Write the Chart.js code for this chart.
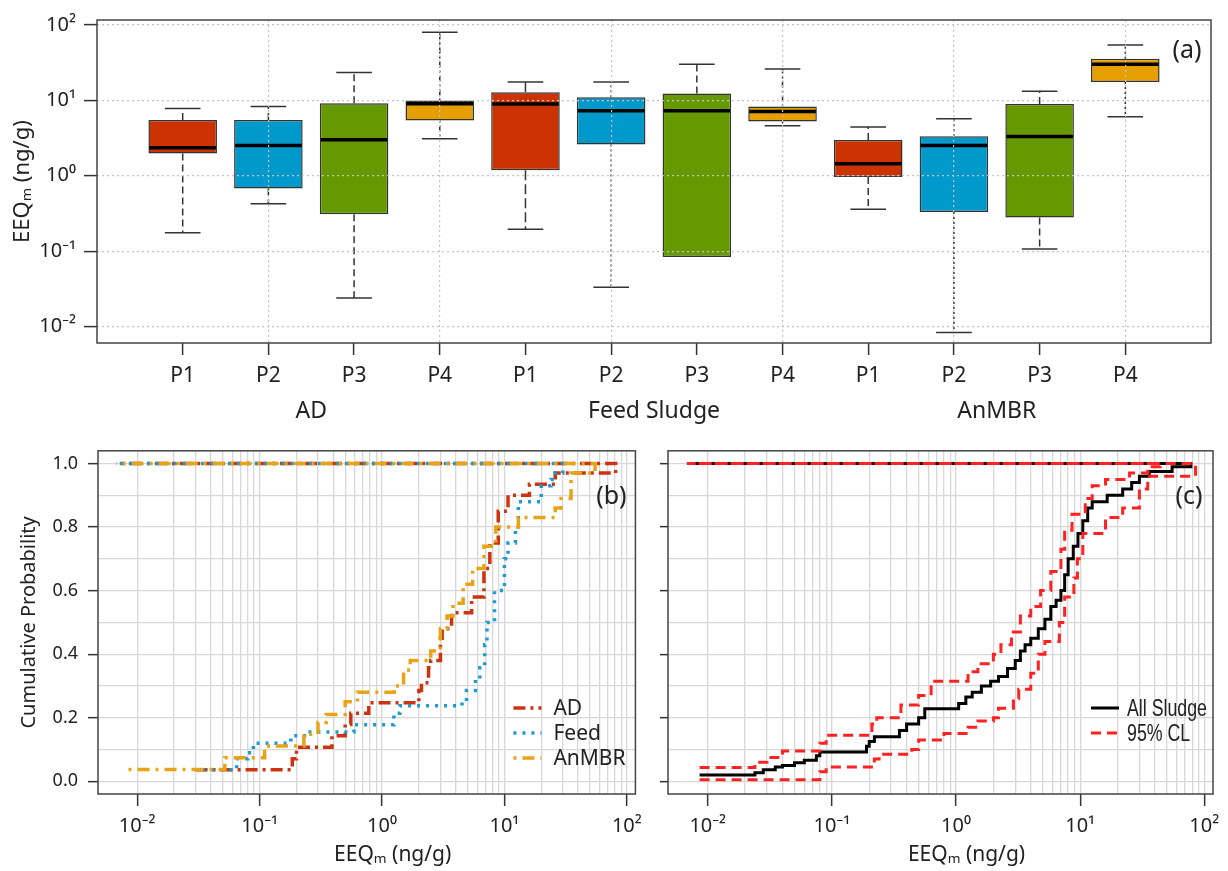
<!DOCTYPE html>
<html>
<head>
<meta charset="utf-8">
<script src="https://cdn.jsdelivr.net/npm/chart.js@4.4.0/dist/chart.umd.min.js"></script>
<style>
  body { margin: 0; background: #fff; width: 1228px; height: 871px; position: relative; overflow: hidden; }
  canvas { position: absolute; }
</style>
</head>
<body>
<canvas id="box" width="1228" height="430" style="left:0px;top:0px"></canvas>
<canvas id="ecdfB" width="650" height="441" style="left:0px;top:430px"></canvas>
<canvas id="ecdfC" width="578" height="441" style="left:650px;top:430px"></canvas>
<script>
// ---- panel (a): box plots, one box per plant and sludge type ----
const groups = ['AD', 'Feed Sludge', 'AnMBR'];
const plants = ['P1', 'P2', 'P3', 'P4'];
const boxMin = [0.176, 0.426, 0.024, 3.08, 0.196, 0.0333, 0.0838, 4.58, 0.36, 0.00836, 0.107, 6.07];
const boxQ1  = [1.97, 0.676, 0.308, 5.4, 1.18, 2.59, 0.0838, 5.24, 0.96, 0.33, 0.28, 17.5];
const boxMed = [2.35, 2.51, 3.0, 9.0, 8.9, 7.24, 7.24, 7.1, 1.44, 2.51, 3.31, 30];
const boxQ3  = [5.46, 5.46, 9.16, 9.9, 12.8, 11.0, 12.3, 8.3, 2.97, 3.34, 8.9, 35.4];
const boxMax = [7.8, 8.3, 23.3, 80, 17.5, 17.5, 30, 25.9, 4.44, 5.67, 13.2, 54];
const logDecades = [-2, -1, 0, 1, 2];
const logTickLabels = ['10⁻²', '10⁻¹', '10⁰', '10¹', '10²'];

// ---- panel (b): ECDF per sludge type (step x, level after step) ----
const adX = [0.03, 0.185, 0.2, 0.39, 0.5, 0.556, 0.78, 2.0, 2.1, 2.4, 2.5, 3.0, 3.1, 3.7, 5.4, 6.8, 7.6, 8.9, 10.7, 16, 26, 81];
const adY = [0.036, 0.071, 0.107, 0.143, 0.179, 0.214, 0.247, 0.286, 0.31, 0.357, 0.38, 0.45, 0.48, 0.53, 0.58, 0.67, 0.75, 0.85, 0.9, 0.935, 0.97, 1.0];
const feedX = [0.034, 0.065, 0.08, 0.089, 0.18, 0.25, 0.59, 1.25, 1.4, 4.5, 4.9, 5.8, 6.3, 6.9, 7.2, 8.3, 10.0, 10.7, 12.3, 13, 20, 24, 26, 30];
const feedY = [0.036, 0.071, 0.09, 0.12, 0.143, 0.155, 0.178, 0.214, 0.238, 0.25, 0.286, 0.321, 0.357, 0.43, 0.5, 0.6, 0.7, 0.75, 0.8, 0.88, 0.93, 0.95, 0.97, 1.0];
const anX = [0.0085, 0.052, 0.11, 0.23, 0.3, 0.35, 0.5, 0.63, 1.26, 1.5, 1.7, 2.5, 3.0, 3.4, 3.8, 4.6, 5.5, 6.8, 8.5, 13, 26, 29, 35, 55];
const anY = [0.037, 0.074, 0.111, 0.148, 0.185, 0.21, 0.25, 0.28, 0.3, 0.35, 0.38, 0.41, 0.48, 0.52, 0.56, 0.62, 0.67, 0.74, 0.8, 0.83, 0.86, 0.89, 0.97, 1.0];

// ---- panel (c): all sludge ECDF with 95% confidence limits ----
const allX = [0.0086, 0.024, 0.028, 0.035, 0.04, 0.05, 0.06, 0.075, 0.08, 0.19, 0.2, 0.22, 0.35, 0.4, 0.5, 0.56, 1.05, 1.2, 1.35, 1.6, 1.9, 2.2, 2.6, 3.0, 3.3, 3.6, 4.0, 4.6, 5.2, 5.8, 6.4, 7.0, 7.5, 8.0, 8.8, 9.6, 10.5, 11.5, 12.5, 16.5, 22, 26, 30, 36, 55, 78];
const allY = [0.02, 0.027, 0.036, 0.045, 0.05, 0.058, 0.066, 0.08, 0.092, 0.11, 0.125, 0.14, 0.16, 0.18, 0.2, 0.228, 0.245, 0.265, 0.28, 0.3, 0.315, 0.33, 0.355, 0.38, 0.41, 0.43, 0.45, 0.48, 0.51, 0.55, 0.57, 0.6, 0.65, 0.7, 0.74, 0.78, 0.82, 0.86, 0.88, 0.9, 0.92, 0.94, 0.96, 0.975, 0.99, 1.0];
const upX = [0.0086, 0.024, 0.03, 0.04, 0.08, 0.09, 0.21, 0.23, 0.36, 0.5, 0.63, 1.25, 1.5, 2.0, 2.3, 2.8, 3.3, 4.0, 4.8, 5.8, 7.0, 7.5, 8.6, 11, 12.5, 16, 25, 35, 44];
const upY = [0.043, 0.06, 0.075, 0.095, 0.12, 0.145, 0.18, 0.2, 0.24, 0.27, 0.315, 0.345, 0.37, 0.4, 0.43, 0.47, 0.52, 0.55, 0.6, 0.66, 0.73, 0.79, 0.84, 0.89, 0.93, 0.95, 0.97, 0.99, 1.0];
const loX = [0.0086, 0.08, 0.09, 0.22, 0.24, 0.44, 0.5, 0.8, 1.25, 1.5, 2.0, 2.2, 2.9, 3.2, 4.0, 4.6, 5.2, 6.8, 7.5, 8.9, 9.5, 10.5, 16, 22, 30, 35, 85];
const loY = [0.005, 0.03, 0.045, 0.07, 0.085, 0.1, 0.13, 0.15, 0.17, 0.19, 0.2, 0.23, 0.26, 0.29, 0.34, 0.4, 0.44, 0.5, 0.58, 0.64, 0.7, 0.78, 0.83, 0.86, 0.92, 0.96, 1.0];
const ecdfTopStart = 0.0068;   // where the y = 1 line of each curve ends on the left

const probTicks = [0, 0.1, 0.2, 0.3, 0.4, 0.5, 0.6, 0.7, 0.8, 0.9, 1.0];
const probLabels = ['0.0', '', '0.2', '', '0.4', '', '0.6', '', '0.8', '', '1.0'];

const FONT = '"Noto Sans", Lato, sans-serif';
const NARROW = '"Liberation Sans", Arial, sans-serif';
const TXT = '#222';
const boxColors = ['#CC3300', '#0099CC', '#669900', '#E69F00'];
const whiskerStyle = ['dash', 'dash', 'dash', 'dotdash', 'longdash', 'dot', 'dash', 'dotdash', 'dash', 'dot', 'dash', 'dot'];
const dashes = { dash: [7, 4], longdash: [10, 4], dot: [2, 3], dotdash: [2, 3, 6, 3] };
const none = 'rgba(0,0,0,0)';

Chart.defaults.font.family = FONT;
Chart.defaults.color = TXT;

const frame = {
  id: 'frame',
  afterDraw(chart) {
    const { ctx, chartArea: a } = chart;
    ctx.save();
    ctx.strokeStyle = '#444';
    ctx.lineWidth = 1.5;
    ctx.strokeRect(a.left, a.top, a.right - a.left, a.bottom - a.top);
    ctx.restore();
  }
};

function text(ctx, str, x, y, font, align, squeeze) {
  ctx.save();
  ctx.font = font;
  ctx.fillStyle = TXT;
  ctx.textAlign = align || 'center';
  ctx.textBaseline = 'middle';
  ctx.translate(x, y);
  if (squeeze) ctx.scale(squeeze, 1);
  ctx.fillText(str, 0, 0);
  ctx.restore();
}

function seg(ctx, x1, y1, x2, y2) {
  ctx.beginPath();
  ctx.moveTo(x1, y1);
  ctx.lineTo(x2, y2);
  ctx.stroke();
}

// whiskers, caps and medians for the boxes
const boxParts = {
  id: 'boxParts',
  afterDatasetsDraw(chart) {
    const { ctx, scales: { y } } = chart;
    const meta = chart.getDatasetMeta(0);
    boxMed.forEach((med, i) => {
      const bar = meta.data[i];
      const cx = bar.x, half = bar.width / 2, cap = bar.width * 0.26;
      const pMin = y.getPixelForValue(boxMin[i]), pQ1 = y.getPixelForValue(boxQ1[i]);
      const pQ3 = y.getPixelForValue(boxQ3[i]), pMax = y.getPixelForValue(boxMax[i]);
      ctx.save();
      ctx.strokeStyle = '#333';
      ctx.lineWidth = 1.5;
      ctx.setLineDash(dashes[whiskerStyle[i]]);
      if (boxMax[i] > boxQ3[i]) seg(ctx, cx, pQ3, cx, pMax);
      if (boxMin[i] < boxQ1[i]) seg(ctx, cx, pQ1, cx, pMin);
      ctx.setLineDash([]);
      if (boxMax[i] > boxQ3[i]) seg(ctx, cx - cap, pMax, cx + cap, pMax);
      if (boxMin[i] < boxQ1[i]) seg(ctx, cx - cap, pMin, cx + cap, pMin);
      ctx.strokeStyle = '#000';
      ctx.lineWidth = 3.5;
      const pm = y.getPixelForValue(med);
      seg(ctx, cx - half + 1, pm, cx + half - 1, pm);
      ctx.restore();
    });
  },
  afterDraw(chart) {
    const { ctx, scales: { x }, chartArea: a } = chart;
    groups.forEach((g, k) => {
      const first = k * plants.length + 1, last = first + plants.length - 1;
      text(ctx, g, x.getPixelForValue((first + last) / 2), 411, '23px ' + FONT);
    });
    text(ctx, '(a)', a.right - 24, a.top + 31, '25px ' + FONT);
  }
};

new Chart(document.getElementById('box'), {
  type: 'bar',
  data: {
    datasets: [{
      data: boxQ1.map((q1, i) => ({ x: i + 1, y: [q1, boxQ3[i]] })),
      backgroundColor: boxQ1.map((_, i) => boxColors[i % plants.length]),
      borderColor: '#333',
      borderWidth: 1.5,
      borderSkipped: false,
      categoryPercentage: 1,
      barPercentage: 0.8
    }]
  },
  options: {
    responsive: false,
    animation: false,
    layout: { padding: { left: 0, right: 17, top: 8, bottom: 0 } },
    plugins: { legend: { display: false }, tooltip: { enabled: false } },
    scales: {
      x: {
        type: 'linear', min: 0, max: boxMed.length + 1, offset: false,
        ticks: {
          stepSize: 1, autoSkip: false, maxRotation: 0, padding: 8,
          font: { size: 21 },
          callback: v => (v >= 1 && v <= boxMed.length) ? plants[(v - 1) % plants.length] : ''
        },
        grid: {
          offset: false,
          color: c => (c.tick && c.tick.value % 2 === 0 && c.tick.value > 0 && c.tick.value <= boxMed.length) ? '#C4C4C4' : none,
          lineWidth: 1.2,
          tickColor: c => (c.tick && c.tick.value >= 1 && c.tick.value <= boxMed.length) ? '#333' : none,
          tickLength: 12, tickWidth: 1.5, z: 1
        },
        border: { display: false, dash: [2, 3] },
        afterFit: s => { s.height = 87; }
      },
      y: {
        type: 'logarithmic', min: Math.pow(10, -2.217), max: Math.pow(10, 2.064),
        afterBuildTicks: s => { s.ticks = logDecades.map(e => ({ value: Math.pow(10, e) })); },
        ticks: { autoSkip: false, padding: 8, font: { size: 20 }, callback: (v, i) => logTickLabels[i] },
        grid: { color: '#C4C4C4', lineWidth: 1.2, tickColor: '#333', tickLength: 13, tickWidth: 1.5, z: 1 },
        border: { display: false, dash: [2, 3] },
        title: { display: true, text: 'EEQₘ (ng/g)', font: { size: 22 }, padding: { top: 10, bottom: 0 } },
        afterFit: s => { s.width = 97; }
      }
    }
  },
  plugins: [boxParts, frame]
});

// ---- ECDF panels ----
function ecdfPoints(xs, ys) {
  const pts = xs.map((x, i) => ({ x, y: ys[i] }));
  pts.push({ x: ecdfTopStart, y: 1 });
  return pts;
}

function isDecade(v) {
  const l = Math.log10(v);
  return Math.abs(l - Math.round(l)) < 1e-9;
}

const logGrid = [];
logDecades.forEach(e => {
  for (let m = 1; m <= 9; m++) {
    if (e < logDecades[logDecades.length - 1] || m === 1) logGrid.push(m * Math.pow(10, e));
  }
});

function ecdfScales(yWidth, yLabels) {
  return {
    x: {
      type: 'logarithmic', min: Math.pow(10, -2.32), max: Math.pow(10, 2.07),
      afterBuildTicks: s => { s.ticks = logGrid.map(v => ({ value: v })); },
      ticks: {
        autoSkip: false, maxRotation: 0, padding: 8, font: { size: 20 },
        callback: v => isDecade(v) ? logTickLabels[logDecades.indexOf(Math.round(Math.log10(v)))] : ''
      },
      grid: {
        color: '#D8D8D8', lineWidth: 1.3,
        tickColor: c => (c.tick && isDecade(c.tick.value)) ? '#333' : none,
        tickLength: 12, tickWidth: 1.5
      },
      border: { display: false },
      afterFit: s => { s.height = 77; }
    },
    y: {
      type: 'linear', min: -0.04, max: 1.04,
      afterBuildTicks: s => { s.ticks = probTicks.map(v => ({ value: v })); },
      ticks: {
        autoSkip: false, padding: 10, font: { size: 18 },
        callback: (v, i) => yLabels ? probLabels[i] : ''
      },
      grid: {
        color: '#D8D8D8', lineWidth: 1.3,
        tickColor: c => (c.index !== undefined && probLabels[c.index]) ? '#333' : none,
        tickLength: yLabels ? 10 : 8, tickWidth: 1.5
      },
      border: { display: false },
      title: yLabels ? { display: true, text: 'Cumulative Probability', font: { size: 20 }, padding: { top: 17, bottom: 0 } } : { display: false },
      afterFit: s => { s.width = yWidth; }
    }
  };
}

function legendAndLabels(panel, entries, legendFont, squeeze, textGap) {
  return {
    id: 'legend' + panel,
    afterDraw(chart) {
      const { ctx, chartArea: a } = chart;
      text(ctx, 'EEQₘ (ng/g)', (a.left + a.right) / 2 + 26, 425, '21px ' + FONT);
      text(ctx, '(' + panel + ')', a.right - 24, a.top + 46, '25px ' + FONT);
      entries.forEach((ds, k) => {
        const y = a.bottom - 86 + k * 25;
        ctx.save();
        ctx.strokeStyle = ds.borderColor;
        ctx.lineWidth = ds.borderWidth;
        ctx.setLineDash(ds.borderDash);
        seg(ctx, a.right - 122, y, a.right - 94, y);
        ctx.restore();
        text(ctx, ds.label, a.right - textGap, y + 1, legendFont, 'left', squeeze);
      });
    }
  };
}

const lineBase = { stepped: 'before', pointRadius: 0, fill: false, borderWidth: 3.5, borderCapStyle: 'butt' };

const dsB = [
  Object.assign({ label: 'AD', data: ecdfPoints(adX, adY), borderColor: '#CC3311', borderDash: [12, 5, 3, 5], order: 2 }, lineBase),
  Object.assign({ label: 'Feed', data: ecdfPoints(feedX, feedY), borderColor: '#1C9AD3', borderDash: [3, 6], order: 1 }, lineBase),
  Object.assign({ label: 'AnMBR', data: ecdfPoints(anX, anY), borderColor: '#E8A317', borderDash: [3, 6, 12, 6], order: 0 }, lineBase)
];

new Chart(document.getElementById('ecdfB'), {
  type: 'line',
  data: { datasets: dsB },
  options: {
    responsive: false,
    animation: false,
    layout: { padding: { left: 0, right: 13, top: 16, bottom: 0 } },
    plugins: { legend: { display: false }, tooltip: { enabled: false } },
    scales: ecdfScales(98, true)
  },
  plugins: [frame, legendAndLabels('b', dsB, '21px ' + FONT, 0, 82)]
});

const dsC = [
  Object.assign({ label: 'All Sludge', data: ecdfPoints(allX, allY), borderColor: '#000', borderDash: [], order: 2 }, lineBase, { borderWidth: 3 }),
  Object.assign({ label: '95% CL', data: ecdfPoints(upX, upY), borderColor: '#FF2222', borderDash: [10, 6], order: 1 }, lineBase, { borderWidth: 3 }),
  Object.assign({ label: '95% CL', data: ecdfPoints(loX, loY), borderColor: '#FF2222', borderDash: [10, 6], order: 0 }, lineBase, { borderWidth: 3 })
];

new Chart(document.getElementById('ecdfC'), {
  type: 'line',
  data: { datasets: dsC },
  options: {
    responsive: false,
    animation: false,
    layout: { padding: { left: 0, right: 15, top: 16, bottom: 0 } },
    plugins: { legend: { display: false }, tooltip: { enabled: false } },
    scales: ecdfScales(18, false)
  },
  plugins: [frame, legendAndLabels('c', dsC.slice(0, 2), '24px ' + NARROW, 0.74, 86)]
});
</script>
</body>
</html>
